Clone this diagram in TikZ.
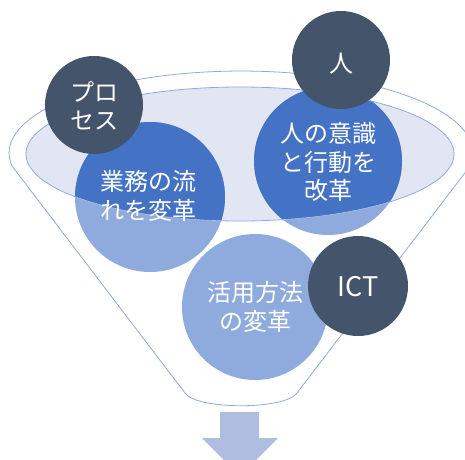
\documentclass[tikz,border=0pt]{standalone}
\usepackage{fontspec}
\setmainfont{Noto Sans CJK JP}
\definecolor{darkc}{HTML}{44546A}
\definecolor{bluec}{HTML}{4472C4}
\definecolor{lightc}{HTML}{8FAADC}
\definecolor{ellfill}{RGB}{226,230,243}
\definecolor{edgec}{HTML}{8FAADC}
\definecolor{arrowc}{RGB}{175,189,224}
\tikzset{
  lbl/.style={text=white, align=center, font=\fontsize{24}{28.5}\selectfont, inner sep=0pt},
  darkdisc/.style={fill=darkc, draw=none},
}
\begin{document}
\begin{tikzpicture}[x=1pt,y=1pt]
\useasboundingbox (0,0) rectangle (465,459);
\begin{scope}
\clip (0,0) rectangle (465,459);
% funnel outline
\draw[edgec, line width=0.8pt, fill=white] (12,293) arc[start angle=189.1, end angle=-9.1, x radius=232, y radius=82]
  -- (297,66) .. controls (285,49) and (197,49) .. (185,66) -- cycle;
% inner ellipse
\fill[ellfill] (240,305) ellipse[x radius=214, y radius=67];
\draw[edgec, line width=0.8pt] (240,305) ellipse[x radius=214, y radius=67];
% circles light
\fill[lightc] (150,262) circle[radius=75];
\fill[lightc] (328,298) circle[radius=74];
\fill[lightc] (255,152) circle[radius=73];
% darker parts inside ellipse
\begin{scope}
\clip (240,305) ellipse[x radius=214, y radius=67];
\fill[bluec] (150,262) circle[radius=75];
\fill[bluec] (328,298) circle[radius=74];
\end{scope}
\begin{scope}
\clip (150,262) circle[radius=75] (328,298) circle[radius=74];
\draw[lightc!70!white, line width=0.6pt] (240,305) ellipse[x radius=214, y radius=67];
\end{scope}
% dark discs
\fill[darkc] (94,354) circle[radius=49];
\fill[darkc] (341,399) circle[radius=49];
\fill[darkc] (358,173) circle[radius=50];
% arrow
\fill[arrowc] (220,47) -- (259,47) -- (259,21) -- (278,21) -- (240,-17) -- (202,21) -- (220,21) -- cycle;
\end{scope}
% labels
\node[lbl] (proc) at (94,353) {プロ\\セス};
\node[lbl] (hito) at (341,395) {人};
\node[lbl] (gyomu) at (148,263) {業務の流\\れを変革};
\node[lbl] (ishiki) at (328,297) {人の意識\\と行動を\\改革};
\node[lbl] (katsuyo) at (255,152) {活用方法\\の変革};
\node[lbl, font=\fontsize{27}{30}\selectfont] (ict) at (358,172) {ICT};
\end{tikzpicture}
\end{document}
